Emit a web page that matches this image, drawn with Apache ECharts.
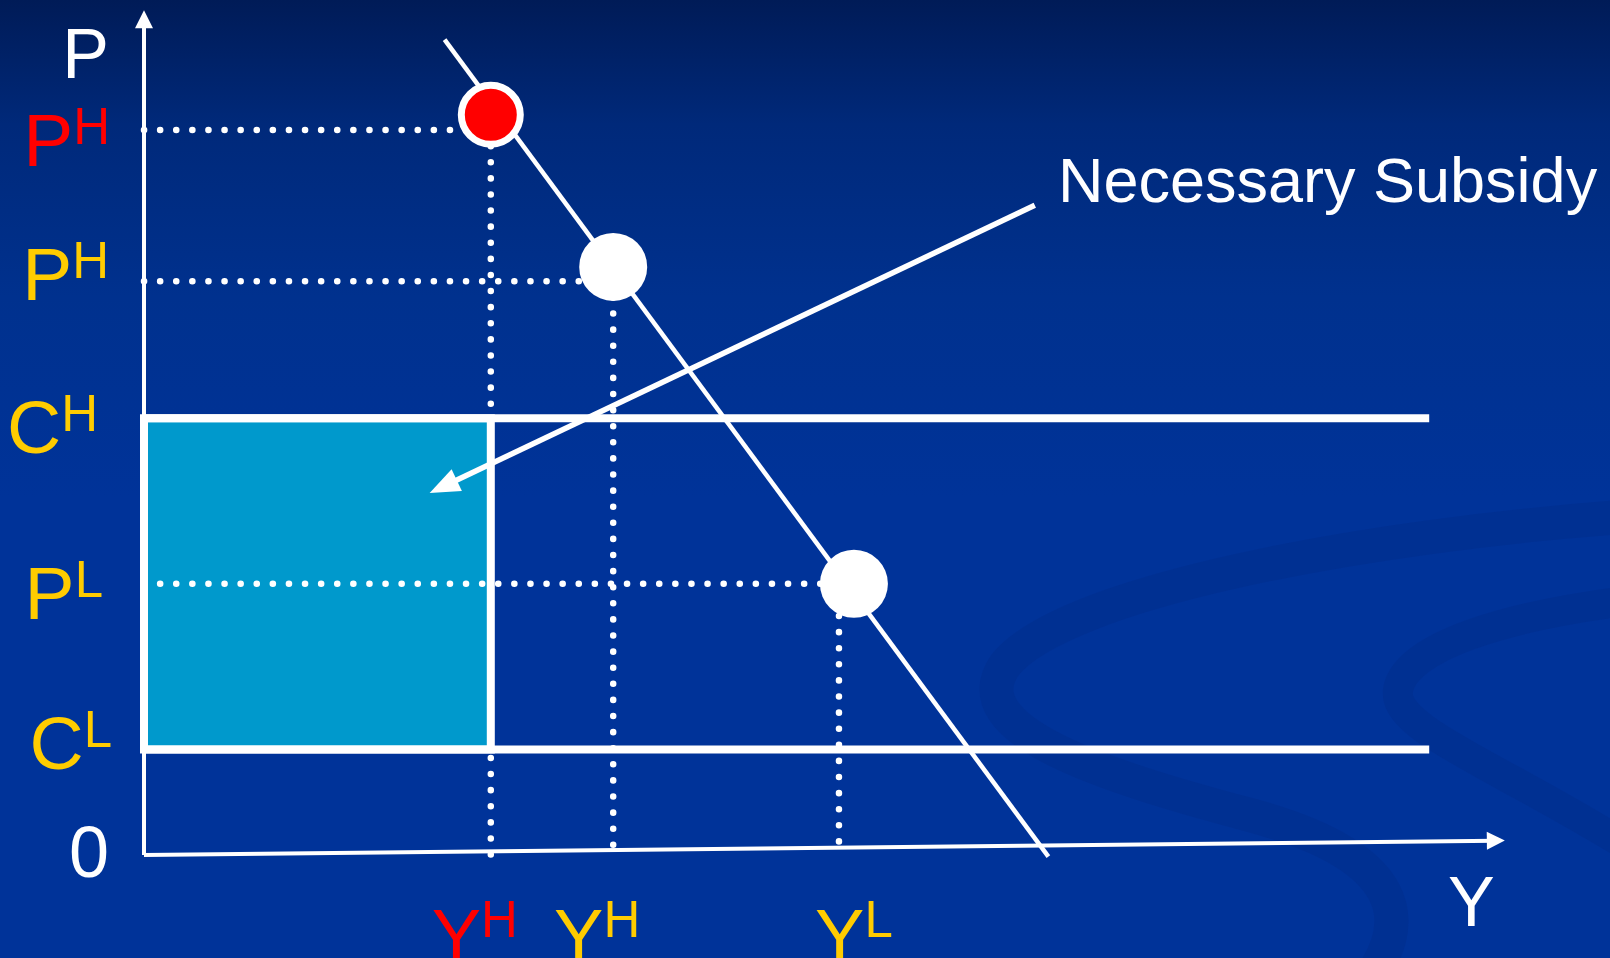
<!DOCTYPE html>
<html>
<head>
<meta charset="utf-8">
<script src="https://cdn.jsdelivr.net/npm/echarts@6/dist/echarts.min.js"></script>
<style>
html, body { margin: 0; padding: 0; background: #003399; }
#chart {
  width: 1610px; height: 958px; position: relative; overflow: hidden;
  background:
    url("data:image/svg+xml;utf8,<svg xmlns='http://www.w3.org/2000/svg' width='1610' height='958'><g fill='none' stroke='%23002d8c' stroke-opacity='0.5' stroke-linecap='round'><path d='M1650,515 C1350,535 1060,595 1005,665 C960,730 1100,775 1250,815 C1400,855 1420,920 1360,990' stroke-width='34'/><path d='M1650,598 C1500,615 1405,648 1398,690 C1392,730 1500,765 1650,860' stroke-width='30'/></g></svg>") no-repeat,
    linear-gradient(180deg, #001B57 0%, #00297A 13%, #00318E 31%, #003399 52%, #003399 100%);
}
</style>
</head>
<body>
<div id="chart"></div>
<script>
// ---------------- data ----------------
const X_MAX = 10;
const Y_MAX = 10;

// price / cost levels (vertical axis)
const P_H_SUB = 8.58;   // high price needed with subsidy (red)
const P_H = 6.79;       // high price
const C_H = 5.17;       // high cost
const P_L = 3.21;       // low price
const C_L = 1.25;       // low cost

// quantities (horizontal axis)
const Y_H_SUB = 2.55;
const Y_H = 3.45;
const Y_L = 5.11;

// market points on the demand curve
const subsidyPoint = [[2.55, 8.76]];
const marketPoints = [[3.45, 6.96], [5.22, 3.21]];

// demand curve end points
const demandCurve = [[2.21, 9.65], [6.65, -0.02]];

// cost lines run to this quantity
const costLineEnd = 9.45;

// subsidy arrow (from label toward shaded area)
const subsidyArrow = [[6.55, 7.69], [2.20, 4.36]];
const subsidyText = 'Necessary Subsidy';
const subsidyTextAnchor = [[6.72, 7.93]];

// axis ends and names
const xAxisLine = [[0, 0], [9.94, 0.17]];
const yAxisLine = [[0, 0], [0, 9.89]];
const yAxisName = 'P';

// axis labels
const yLabelValues = [0, C_L, P_L, C_H, P_H, P_H_SUB];
const yLabelMain = ['0', 'C', 'P', 'C', 'P', 'P'];
const yLabelSup = ['', 'L', 'L', 'H', 'H', 'H'];
const xLabelValues = [Y_H_SUB, Y_H, Y_L, 9.76];
const xLabelMain = ['Y', 'Y', 'Y', 'Y'];
const xLabelSup = ['H', 'H', 'L', ''];

// dotted guides: [level/position, extent]
const hGuides = [[P_H_SUB, Y_H_SUB], [P_H, Y_H], [P_L, 5.22]];
const vGuides = [[Y_H_SUB, P_H_SUB], [Y_H, P_H], [Y_L, P_L]];

// ---------------- styles ----------------
const WHITE = '#FFFFFF', YELLOW = '#FFCC00', RED = '#FF0000', TEAL = '#0099CC';
const FONT = '"Liberation Sans", Arial, Helvetica, sans-serif';

const yLabelColor = [WHITE, YELLOW, YELLOW, YELLOW, YELLOW, RED];
const yLabelShift = [2, -1, 15, 14, -2, 15];
const yLabelRightPad = [3, 0, 9, 14, 3, 2];
const yLabelMainSize = [72, 75, 75, 75, 75, 75];
const yLabelLineH = [60, 75, 75, 75, 75, 75];

const xLabelColor = [RED, YELLOW, YELLOW, WHITE];
const xLabelShift = [-16, -16, 15, 0];
const xLabelTopPad = [72, 72, 72, 8];
const xSupTopPad = [35, 35, 35, 0];
const xLabelMainSize = [74, 74, 74, 70];
const SUP_SIZE = 51;

function findIndex(values, v) {
  let best = 0, bd = Infinity;
  values.forEach((x, i) => { const d = Math.abs(x - v); if (d < bd) { bd = d; best = i; } });
  return best;
}

const yRich = {};
yLabelValues.forEach((v, i) => {
  const d = yLabelShift[i];
  const top = d > 0 ? 2 * d : 0, bottom = d < 0 ? -2 * d : 0;
  const hasSup = yLabelSup[i] !== '';
  const supDiff = 2 * d - 31;
  yRich['m' + i] = {
    color: yLabelColor[i], fontSize: yLabelMainSize[i], lineHeight: yLabelLineH[i],
    fontFamily: FONT, padding: [top, hasSup ? 0 : yLabelRightPad[i], bottom, 0]
  };
  yRich['s' + i] = {
    color: yLabelColor[i], fontSize: SUP_SIZE, lineHeight: SUP_SIZE, fontFamily: FONT,
    padding: [supDiff > 0 ? supDiff : 0, yLabelRightPad[i], supDiff < 0 ? -supDiff : 0, 0]
  };
});

const xRich = {};
xLabelValues.forEach((v, i) => {
  const s = xLabelShift[i];
  const hasSup = xLabelSup[i] !== '';
  const left = s > 0 ? 2 * s : 0, right = s < 0 ? -2 * s : 0;
  xRich['m' + i] = {
    color: xLabelColor[i], fontSize: xLabelMainSize[i], lineHeight: xLabelMainSize[i],
    fontFamily: FONT, padding: [xLabelTopPad[i], hasSup ? 0 : right, 0, left]
  };
  xRich['s' + i] = {
    color: xLabelColor[i], fontSize: SUP_SIZE, lineHeight: SUP_SIZE, fontFamily: FONT,
    padding: [xSupTopPad[i], right, 0, 0]
  };
});

function labelFormatter(values, mains, sups) {
  return function (value) {
    const i = findIndex(values, value);
    let s = '{m' + i + '|' + mains[i] + '}';
    if (sups[i]) s += '{s' + i + '|' + sups[i] + '}';
    return s;
  };
}

const dotStyle = { color: WHITE, width: 6.5, type: [0.1, 16], cap: 'round', opacity: 1 };

function lineSeries(data, lineStyle, z) {
  return {
    type: 'line', data: data, symbol: 'none', lineStyle: lineStyle, z: z,
    clip: false, silent: true, animation: false, emphasis: { disabled: true }
  };
}

const series = [];

// shaded subsidy area
series.push({
  type: 'line', data: [], z: 1, silent: true, animation: false,
  markArea: {
    silent: true, animation: false,
    itemStyle: { color: TEAL, borderColor: WHITE, borderWidth: 8, opacity: 1 },
    label: { show: false },
    emphasis: { disabled: true },
    data: [[{ coord: [0, C_L] }, { coord: [Y_H_SUB, C_H] }]]
  }
});

// dotted guides
hGuides.forEach(g => series.push(lineSeries([[0, g[0]], [g[1], g[0]]], dotStyle, 2)));
vGuides.forEach(g => series.push(lineSeries([[g[0], g[1]], [g[0], 0]], dotStyle, 2)));

// cost lines
series.push(lineSeries([[0, C_H], [costLineEnd, C_H]], { color: WHITE, width: 8 }, 3));
series.push(lineSeries([[0, C_L], [costLineEnd, C_L]], { color: WHITE, width: 8 }, 3));

// demand curve
series.push(lineSeries(demandCurve, { color: WHITE, width: 4.5 }, 4));

// axes with arrows
series.push({
  type: 'line', data: [], z: 5, silent: true, animation: false,
  markLine: {
    silent: true, animation: false, symbol: ['none', 'triangle'], symbolSize: [18, 18],
    label: { show: false }, emphasis: { disabled: true },
    lineStyle: { color: WHITE, width: 4, type: 'solid', opacity: 1 },
    data: [
      [{ coord: xAxisLine[0] }, { coord: xAxisLine[1] }],
      [{ coord: yAxisLine[0] }, { coord: yAxisLine[1] }]
    ]
  }
});

// subsidy arrow
series.push({
  type: 'line', data: [], z: 7, silent: true, animation: false,
  markLine: {
    silent: true, animation: false, symbol: ['none', 'triangle'], symbolSize: [24, 30],
    label: { show: false }, emphasis: { disabled: true },
    lineStyle: { color: WHITE, width: 5.5, type: 'solid', opacity: 1 },
    data: [[{ coord: subsidyArrow[0] }, { coord: subsidyArrow[1] }]]
  }
});

// market points
series.push({
  type: 'scatter', data: subsidyPoint, symbolSize: 59, z: 8, silent: true, animation: false,
  itemStyle: { color: RED, borderColor: WHITE, borderWidth: 7, opacity: 1 }
});
series.push({
  type: 'scatter', data: marketPoints, symbolSize: 68, z: 8, silent: true, animation: false,
  itemStyle: { color: WHITE, opacity: 1 }
});

// subsidy label
series.push({
  type: 'scatter', data: subsidyTextAnchor, symbolSize: 0, z: 9, silent: true, animation: false,
  itemStyle: { color: WHITE, opacity: 1 },
  label: {
    show: true, position: 'right', distance: 0, formatter: subsidyText,
    color: WHITE, opacity: 1, textBorderWidth: 0, textShadowBlur: 0,
    fontSize: 63, lineHeight: 63, fontFamily: FONT
  },
  emphasis: { disabled: true }
});

const chart = echarts.init(document.getElementById('chart'), null, { renderer: 'canvas', width: 1610, height: 958 });
chart.setOption({
  backgroundColor: 'transparent',
  animation: false,
  grid: { left: 144, top: 10, width: 1360, height: 845, containLabel: false, outerBoundsMode: 'none' },
  xAxis: {
    type: 'value', min: 0, max: X_MAX,
    axisLine: { show: false }, axisTick: { show: false }, splitLine: { show: false },
    axisLabel: {
      customValues: xLabelValues, margin: 13, hideOverlap: false,
      formatter: labelFormatter(xLabelValues, xLabelMain, xLabelSup), rich: xRich
    }
  },
  yAxis: {
    type: 'value', min: 0, max: Y_MAX,
    name: yAxisName, nameLocation: 'end', nameGap: -49, nameMoveOverlap: false,
    nameTextStyle: {
      color: WHITE, fontSize: 70, lineHeight: 70, fontFamily: FONT,
      align: 'right', verticalAlign: 'middle', padding: [0, 35, 0, 0]
    },
    axisLine: { show: false }, axisTick: { show: false }, splitLine: { show: false },
    axisLabel: {
      customValues: yLabelValues, margin: 32, hideOverlap: false,
      formatter: labelFormatter(yLabelValues, yLabelMain, yLabelSup), rich: yRich
    }
  },
  series: series
});
</script>
</body>
</html>
